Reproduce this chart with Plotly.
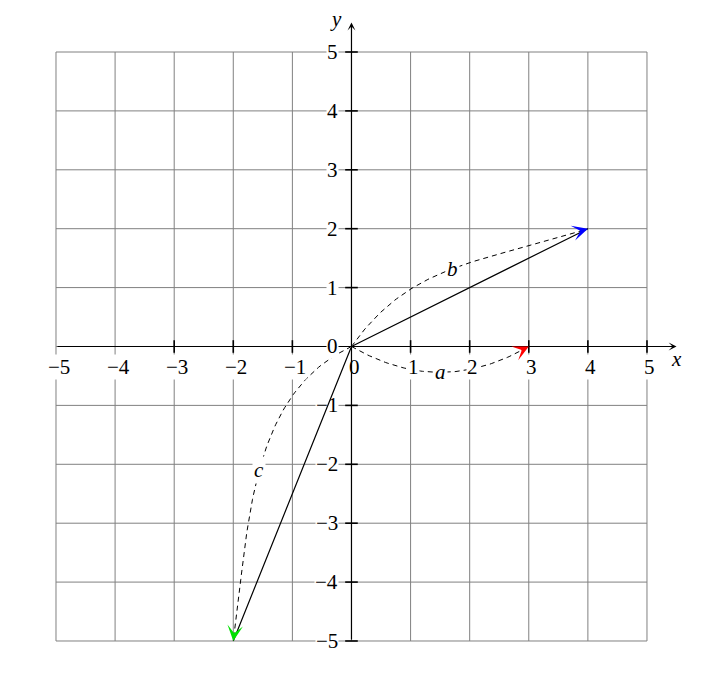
import numpy as np
import plotly.graph_objects as go

# tick values and labels
ticks = [-5, -4, -3, -2, -1, 0, 1, 2, 3, 4, 5]
tick_labels = ['−5', '−4', '−3', '−2', '−1', '0', '1', '2', '3', '4', '5']
xtick_marks = [-3, -2, -1, 1, 2, 3, 4, 5]
ytick_marks = [-5, -4, -3, -2, -1, 1, 2, 3, 4, 5]

# vectors
vector_names = ['a', 'b', 'c']
vector_x = [3, 4, -2]
vector_y = [0, 2, -5]
vector_colors = ['#ff0000', '#0000ff', '#00e000']

# bend of each dashed path: out angle, end angle (deg), control distances
bend_out = [-30, 55, 205]
bend_in = [30, 18, 262]
bend_r1 = [1.17, 1.75, 1.94]
bend_r2 = [1.17, 1.87, 1.91]

font = dict(family='Liberation Serif', size=21, color='black')

fig = go.Figure()

# grid
gx, gy = [], []
for t in ticks:
    gx += [t, t, None, ticks[0], ticks[-1], None]
    gy += [ticks[0], ticks[-1], None, t, t, None]
fig.add_trace(go.Scatter(x=gx, y=gy, mode='lines',
                         line=dict(color='#808080', width=1), hoverinfo='skip'))

# tick marks
fig.add_trace(go.Scatter(x=xtick_marks, y=[0] * len(xtick_marks), mode='markers',
                         marker=dict(symbol='line-ns-open', size=9, color='black',
                                     line=dict(color='black', width=1.6))))
fig.add_trace(go.Scatter(x=[0] * len(ytick_marks), y=ytick_marks, mode='markers',
                         marker=dict(symbol='line-ew-open', size=9, color='black',
                                     line=dict(color='black', width=1.6))))

# bent dashed paths
s = np.linspace(0, 1, 101)
paths = []
for i in range(len(vector_names)):
    vx, vy = vector_x[i], vector_y[i]
    a_out, a_in = np.radians(bend_out[i]), np.radians(bend_in[i])
    p1 = (bend_r1[i] * np.cos(a_out), bend_r1[i] * np.sin(a_out))
    p2 = (vx - bend_r2[i] * np.cos(a_in), vy - bend_r2[i] * np.sin(a_in))
    bx = 3 * (1 - s) ** 2 * s * p1[0] + 3 * (1 - s) * s ** 2 * p2[0] + s ** 3 * vx
    by = 3 * (1 - s) ** 2 * s * p1[1] + 3 * (1 - s) * s ** 2 * p2[1] + s ** 3 * vy
    paths.append((bx, by))
    fig.add_trace(go.Scatter(x=bx, y=by, mode='lines',
                             line=dict(color='black', width=1, dash='5px,4px')))

# x axis line (under the labels)
fig.add_annotation(x=5.5, y=0, ax=-5, ay=0, axref='x', ayref='y', text='',
                   showarrow=True, arrowhead=3, arrowsize=1.1, arrowwidth=1.2,
                   arrowcolor='black')

# tick labels
for t, lab in zip(ticks, tick_labels):
    fig.add_annotation(x=t, y=0, text=lab, showarrow=False, font=font,
                       bgcolor='white', borderpad=0, xshift=3, yshift=-21)
    fig.add_annotation(x=0, y=t, text=lab, showarrow=False, font=font,
                       bgcolor='white', borderpad=0, xanchor='right', xshift=-12)

# y axis line
fig.add_annotation(x=0, y=5.5, ax=0, ay=-5, axref='x', ayref='y', text='',
                   showarrow=True, arrowhead=3, arrowsize=1.1, arrowwidth=1.2,
                   arrowcolor='black')
fig.add_annotation(x=5.5, y=0, text='<i>x</i>', showarrow=False, font=font, yshift=-13)
fig.add_annotation(x=0, y=5.5, text='<i>y</i>', showarrow=False, font=font,
                   xshift=-15, yshift=4)

# solid vectors, arrow heads and names
for i in range(len(vector_names)):
    vx, vy = vector_x[i], vector_y[i]
    bx, by = paths[i]
    fig.add_annotation(x=vx, y=vy, ax=0, ay=0, axref='x', ayref='y', text='',
                       showarrow=True, arrowhead=0, arrowwidth=1.2, arrowcolor='black')
    # head direction follows the last stretch of the dashed path
    dx, dy = vx - bx[85], vy - by[85]
    d = np.hypot(dx, dy)
    fig.add_annotation(x=vx, y=vy, ax=vx - 0.15 * dx / d, ay=vy - 0.15 * dy / d,
                       axref='x', ayref='y', text='', showarrow=True, arrowhead=3,
                       arrowsize=2.6, arrowwidth=1, arrowcolor=vector_colors[i])
    mid = len(s) // 2
    fig.add_annotation(x=bx[mid], y=by[mid], text='<i>' + vector_names[i] + '</i>',
                       showarrow=False, font=font, bgcolor='white', borderpad=1)

fig.update_layout(
    width=720, height=690,
    margin=dict(l=0, r=0, t=0, b=0),
    plot_bgcolor='white', paper_bgcolor='white',
    showlegend=False
)
fig.update_xaxes(visible=False, range=[-5.812, 6.371], fixedrange=True)
fig.update_yaxes(visible=False, range=[-5.968, 5.747], fixedrange=True)
fig.write_html('out.html')
